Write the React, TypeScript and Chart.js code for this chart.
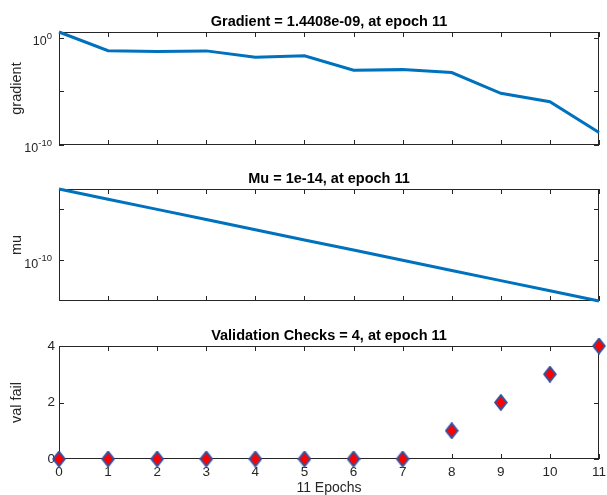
import React, { useEffect, useRef } from "react";
import { Chart, registerables } from "chart.js";

Chart.register(...registerables);

// ---------------- data ----------------
const epochs = [0, 1, 2, 3, 4, 5, 6, 7, 8, 9, 10, 11];
const xTickLabels = ["0", "1", "2", "3", "4", "5", "6", "7", "8", "9", "10", "11"];

const gradientValues = [3.6, 6.5e-2, 5.5e-2, 6.2e-2, 1.6e-2, 2.2e-2, 9.5e-4, 1.1e-3, 5.8e-4, 6.8e-6, 1.1e-6, 1.4408e-9];
const muValues = [1e-3, 1e-4, 1e-5, 1e-6, 1e-7, 1e-8, 1e-9, 1e-10, 1e-11, 1e-12, 1e-13, 1e-14];
const valFailValues = [0, 0, 0, 0, 0, 0, 0, 0, 1, 2, 3, 4];

const gradientAxisMin = 1e-10;
const gradientTicks = [1e-10, 1e-5, 1];
const gradientTickLabels = ["10^-10", "", "10^0"];
const muTicks = [1e-10, 1e-5];
const muTickLabels = ["10^-10", ""];
const valFailTicks = [0, 2, 4];
const valFailTickLabels = ["0", "2", "4"];

const panelTitles = [
  "Gradient = 1.4408e-09, at epoch 11",
  "Mu = 1e-14, at epoch 11",
  "Validation Checks = 4, at epoch 11",
];
const yAxisTitles = ["gradient", "mu", "val fail"];
const xAxisTitle = "11 Epochs";

// ---------------- layout / style ----------------
const W = 607;
const H = 495;
const PLOT_LEFT = 59;
const PLOT_RIGHT = 599;
const PANELS = [
  { top: 32, bottom: 145 },
  { top: 189, bottom: 301 },
  { top: 346, bottom: 459 },
];
const AXIS_COLOR = "#262626";
const FONT_FAMILY = "'Liberation Sans', Arial, Helvetica, sans-serif";
const LINE_BLUE = "#0072BD";

function makeDiamond(): HTMLCanvasElement {
  const c = document.createElement("canvas");
  c.width = 14;
  c.height = 17;
  const g = c.getContext("2d")!;
  g.beginPath();
  g.moveTo(7, 1.2);
  g.lineTo(12.8, 8.5);
  g.lineTo(7, 15.8);
  g.lineTo(1.2, 8.5);
  g.closePath();
  g.fillStyle = "#ff0000";
  g.fill();
  g.lineWidth = 2;
  g.strokeStyle = "#34529e";
  g.stroke();
  return c;
}

const boxPlugin = {
  id: "matlabBox",
  beforeDatasetsDraw(chart: any) {
    const { ctx, chartArea, scales } = chart;
    const { left, right, top, bottom } = chartArea;
    ctx.save();
    ctx.strokeStyle = AXIS_COLOR;
    ctx.lineWidth = 1;
    ctx.strokeRect(left + 0.5, top + 0.5, right - left - 1, bottom - top - 1);
    const tl = 5;
    ctx.beginPath();
    for (const t of scales.x.ticks) {
      const px = Math.round(scales.x.getPixelForValue(t.value)) + 0.5;
      ctx.moveTo(px, bottom);
      ctx.lineTo(px, bottom - tl);
      ctx.moveTo(px, top);
      ctx.lineTo(px, top + tl);
    }
    for (const t of scales.y.ticks) {
      const py = Math.round(scales.y.getPixelForValue(t.value)) + 0.5;
      ctx.moveTo(left, py);
      ctx.lineTo(left + tl, py);
      ctx.moveTo(right, py);
      ctx.lineTo(right - tl, py);
    }
    ctx.stroke();
    ctx.restore();
  },
};

// draws "10^n" tick labels of the log axes as base + superscript
const expTickPlugin = {
  id: "expTicks",
  afterDraw(chart: any, _args: any, opts: any) {
    if (!opts || !opts.values) return;
    const { ctx, chartArea, scales } = chart;
    ctx.save();
    ctx.fillStyle = AXIS_COLOR;
    ctx.textAlign = "right";
    ctx.textBaseline = "middle";
    opts.values.forEach((v: number, k: number) => {
      const label: string = opts.labels[k];
      if (!label) return;
      const [base, exp] = label.split("^");
      const py = scales.y.getPixelForValue(v);
      const xr = chartArea.left - 7;
      ctx.font = `9.5px ${FONT_FAMILY}`;
      const ew = ctx.measureText(exp).width;
      ctx.fillText(exp, xr, py - 2);
      ctx.font = `12.5px ${FONT_FAMILY}`;
      ctx.fillText(base, xr - ew, py + 4);
    });
    ctx.restore();
  },
};

const panelTitlePlugin = {
  id: "panelTitle",
  afterDraw(chart: any, _args: any, opts: any) {
    const { ctx, chartArea } = chart;
    ctx.save();
    ctx.fillStyle = "#000";
    ctx.font = `bold 14.5px ${FONT_FAMILY}`;
    ctx.textAlign = "center";
    ctx.textBaseline = "alphabetic";
    ctx.fillText(opts.text, (chartArea.left + chartArea.right) / 2, chartArea.top - 6);
    ctx.restore();
  },
};

function makeConfig(i: number, diamond: HTMLCanvasElement): any {
  const panel = PANELS[i];
  const showX = i === 2;
  let dataset: any;
  let yScale: any;
  let expOpts: any = null;
  const tickFont = { family: FONT_FAMILY, size: 13.5 };
  const yBase = {
    grid: { display: false, drawTicks: false },
    border: { display: false },
    title: {
      display: true,
      text: yAxisTitles[i],
      color: AXIS_COLOR,
      font: { family: FONT_FAMILY, size: 14.5 },
      padding: { top: 8, bottom: 0 },
    },
    afterFit: (s: any) => {
      s.width = PLOT_LEFT;
      s.paddingTop = 0;
      s.paddingBottom = 0;
    },
  };
  if (i === 0) {
    dataset = {
      data: epochs.map((e, k) => ({ x: e, y: gradientValues[k] })),
      borderColor: LINE_BLUE,
      borderWidth: 3,
      pointRadius: 0,
      tension: 0,
      clip: false,
    };
    yScale = {
      ...yBase,
      type: "logarithmic",
      min: gradientAxisMin,
      max: gradientValues[0],
      afterBuildTicks: (s: any) => {
        s.ticks = gradientTicks.map((v) => ({ value: v }));
      },
      ticks: { display: false },
    };
    expOpts = { values: gradientTicks, labels: gradientTickLabels };
  } else if (i === 1) {
    dataset = {
      data: epochs.map((e, k) => ({ x: e, y: muValues[k] })),
      borderColor: LINE_BLUE,
      borderWidth: 3,
      pointRadius: 0,
      tension: 0,
      clip: false,
    };
    yScale = {
      ...yBase,
      type: "logarithmic",
      min: Math.min(...muValues),
      max: Math.max(...muValues),
      afterBuildTicks: (s: any) => {
        s.ticks = muTicks.map((v) => ({ value: v }));
      },
      ticks: { display: false },
    };
    expOpts = { values: muTicks, labels: muTickLabels };
  } else {
    dataset = {
      data: epochs.map((e, k) => ({ x: e, y: valFailValues[k] })),
      showLine: false,
      pointStyle: diamond,
      pointRadius: 7,
      clip: false,
    };
    yScale = {
      ...yBase,
      type: "linear",
      min: 0,
      max: 4,
      afterBuildTicks: (s: any) => {
        s.ticks = valFailTicks.map((v) => ({ value: v }));
      },
      ticks: {
        color: AXIS_COLOR,
        font: tickFont,
        padding: 4,
        autoSkip: false,
        callback: (v: number) => {
          const idx = valFailTicks.indexOf(v);
          return idx >= 0 ? valFailTickLabels[idx] : "";
        },
      },
    };
  }

  return {
    type: "line",
    data: { datasets: [dataset] },
    options: {
      responsive: false,
      animation: false,
      devicePixelRatio: 1,
      layout: { padding: { top: panel.top, left: 0, right: W - PLOT_RIGHT, bottom: 0 } },
      plugins: {
        legend: { display: false },
        tooltip: { enabled: false },
        panelTitle: { text: panelTitles[i] },
        expTicks: expOpts || {},
      },
      scales: {
        x: {
          type: "linear",
          min: 0,
          max: 11,
          grid: { display: false, drawTicks: false },
          border: { display: false },
          afterBuildTicks: (s: any) => {
            s.ticks = epochs.map((v) => ({ value: v }));
          },
          ticks: {
            display: showX,
            color: AXIS_COLOR,
            font: tickFont,
            padding: 5,
            autoSkip: false,
            maxRotation: 0,
            callback: (v: number) => {
              const idx = epochs.indexOf(v);
              return idx >= 0 ? xTickLabels[idx] : "";
            },
          },
          title: {
            display: showX,
            text: xAxisTitle,
            color: AXIS_COLOR,
            font: { family: FONT_FAMILY, size: 14, lineHeight: 1 },
            padding: { top: 0, bottom: 0 },
          },
          afterFit: (s: any) => {
            s.height = H - panel.bottom;
            s.paddingLeft = 0;
            s.paddingRight = 0;
          },
        },
        y: yScale,
      },
    },
    plugins: [boxPlugin, expTickPlugin, panelTitlePlugin],
  };
}

function Panel({ index }: { index: number }) {
  const ref = useRef<HTMLCanvasElement | null>(null);
  useEffect(() => {
    if (!ref.current) return;
    const chart = new Chart(ref.current, makeConfig(index, makeDiamond()));
    return () => chart.destroy();
  }, [index]);
  return (
    <canvas
      ref={ref}
      width={W}
      height={H}
      style={{ position: "absolute", left: 0, top: 0, width: W, height: H }}
    />
  );
}

export default function App() {
  useEffect(() => {
    document.body.style.margin = "0";
  }, []);
  return (
    <div style={{ position: "relative", width: W, height: H, background: "#fff", overflow: "hidden" }}>
      <Panel index={0} />
      <Panel index={1} />
      <Panel index={2} />
    </div>
  );
}
